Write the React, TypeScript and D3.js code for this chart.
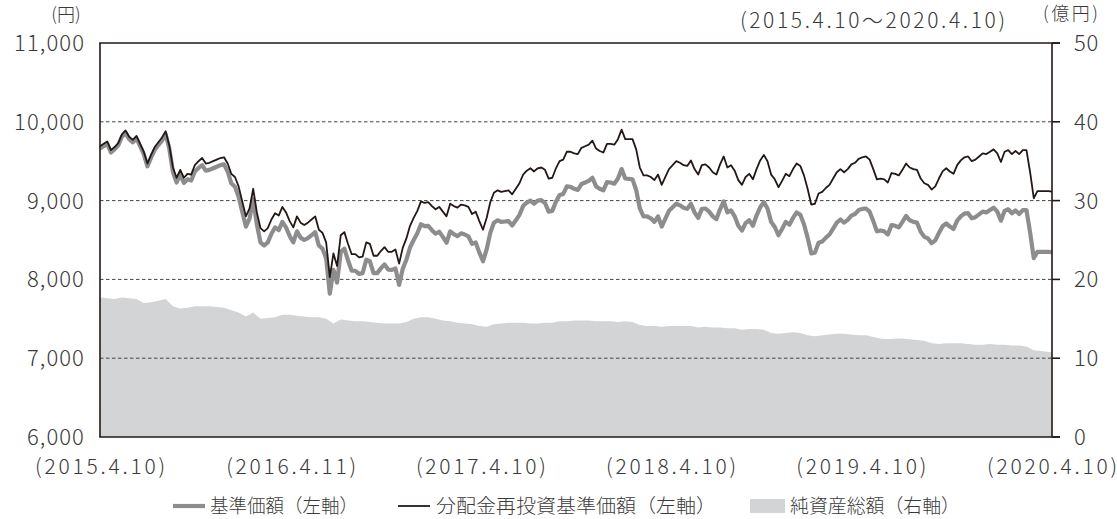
import * as React from 'react'
import * as d3 from 'd3'

// weekly observation dates for the price lines, biweekly for net assets, plus the final date
const startDate = new Date(2015, 3, 10)
const endDate = new Date(2020, 3, 10)
const weeklyDates: Date[] = d3.range(261).map(j => d3.timeDay.offset(startDate, j * 7)).concat([endDate])
const biweeklyDates: Date[] = d3.range(131).map(i => d3.timeDay.offset(startDate, i * 14)).concat([endDate])

// 分配金再投資基準価額 (円), weekly
const navReinvested = [
  9690, 9720, 9750, 9640, 9680, 9730, 9840, 9890, 9810, 9770,
  9820, 9720, 9620, 9470, 9580, 9680, 9740, 9800, 9880, 9700,
  9420, 9290, 9390, 9290, 9340, 9330, 9450, 9500, 9540, 9470,
  9480, 9500, 9520, 9540, 9550, 9470, 9340, 9300, 9180, 8990,
  8800, 8900, 9150, 8850, 8650, 8610, 8650, 8760, 8840, 8810,
  8920, 8850, 8740, 8660, 8800, 8720, 8690, 8720, 8760, 8800,
  8630, 8590, 8470, 8030, 8330, 8170, 8560, 8600, 8450, 8320,
  8320, 8280, 8290, 8470, 8450, 8300, 8300, 8360, 8410, 8350,
  8350, 8380, 8200, 8400, 8520, 8680, 8780, 8870, 8990, 8970,
  8980, 8930, 8890, 8920, 8860, 8800, 8960, 8930, 8910, 8950,
  8940, 8920, 8830, 8860, 8740, 8630, 8780, 8980, 9100, 9130,
  9110, 9120, 9130, 9080, 9150, 9220, 9330, 9380, 9410, 9370,
  9410, 9420, 9390, 9280, 9290, 9410, 9500, 9520, 9620, 9620,
  9600, 9590, 9670, 9690, 9710, 9760, 9660, 9630, 9610, 9720,
  9720, 9710, 9780, 9900, 9780, 9780, 9780, 9650, 9420, 9320,
  9320, 9300, 9260, 9330, 9200, 9300, 9400, 9450, 9500, 9480,
  9450, 9440, 9510, 9400, 9330, 9450, 9460, 9420, 9360, 9330,
  9460, 9560, 9420, 9450, 9380, 9260, 9200, 9300, 9340, 9270,
  9400, 9510, 9580, 9500, 9330, 9270, 9170, 9250, 9340, 9310,
  9400, 9470, 9440, 9320, 9150, 8950, 8960, 9090, 9110, 9160,
  9200, 9280, 9360, 9400, 9360, 9400, 9460, 9480, 9530, 9550,
  9560, 9520, 9400, 9270, 9280, 9270, 9230, 9350, 9340, 9320,
  9390, 9470, 9420, 9400, 9390, 9280, 9220, 9200, 9140, 9180,
  9280, 9370, 9410, 9370, 9340, 9450, 9510, 9550, 9560, 9500,
  9520, 9560, 9600, 9590, 9620, 9650, 9600, 9490, 9620, 9640,
  9590, 9630, 9590, 9640, 9640, 9360, 9030, 9120, 9120, 9120,
  9120, 9115,
]

// 基準価額 (円), weekly
const nav = [
  9660, 9690, 9720, 9610, 9650, 9700, 9810, 9860, 9780, 9740,
  9790, 9690, 9590, 9435, 9545, 9645, 9705, 9760, 9840, 9660,
  9360, 9230, 9330, 9225, 9270, 9255, 9370, 9415, 9450, 9380,
  9390, 9410, 9430, 9450, 9460, 9370, 9220, 9175, 9050, 8860,
  8670, 8770, 9020, 8700, 8470, 8430, 8470, 8580, 8660, 8625,
  8730, 8660, 8550, 8470, 8610, 8530, 8500, 8525, 8560, 8600,
  8430, 8390, 8270, 7820, 8120, 7960, 8350, 8390, 8240, 8110,
  8110, 8070, 8080, 8250, 8230, 8080, 8080, 8140, 8190, 8125,
  8120, 8140, 7930, 8135, 8250, 8405, 8500, 8585, 8700, 8675,
  8680, 8625, 8580, 8605, 8540, 8465, 8610, 8575, 8550, 8585,
  8570, 8545, 8450, 8470, 8340, 8230, 8380, 8590, 8720, 8750,
  8730, 8735, 8740, 8685, 8750, 8820, 8930, 8975, 9000, 8960,
  9000, 9005, 8970, 8860, 8870, 8985, 9070, 9085, 9180, 9175,
  9150, 9135, 9210, 9230, 9250, 9290, 9180, 9150, 9130, 9235,
  9230, 9215, 9280, 9400, 9280, 9275, 9270, 9135, 8900, 8800,
  8800, 8775, 8730, 8800, 8670, 8770, 8870, 8915, 8960, 8940,
  8910, 8895, 8960, 8850, 8780, 8895, 8900, 8860, 8800, 8765,
  8890, 8990, 8850, 8875, 8800, 8680, 8620, 8715, 8750, 8680,
  8810, 8915, 8980, 8900, 8730, 8665, 8560, 8640, 8730, 8695,
  8780, 8850, 8820, 8700, 8530, 8330, 8340, 8465, 8480, 8530,
  8570, 8645, 8720, 8760, 8720, 8755, 8810, 8830, 8880, 8895,
  8900, 8860, 8740, 8610, 8620, 8610, 8570, 8690, 8680, 8660,
  8730, 8805, 8750, 8730, 8720, 8605, 8540, 8520, 8460, 8495,
  8590, 8675, 8710, 8670, 8640, 8745, 8800, 8835, 8840, 8775,
  8790, 8825, 8860, 8850, 8880, 8910, 8860, 8745, 8870, 8890,
  8840, 8875, 8830, 8880, 8880, 8595, 8270, 8350, 8350, 8350,
  8350, 8345,
]

// 純資産総額 (億円), biweekly
const netAssets = [
  17.7, 17.6, 17.5, 17.7, 17.6, 17.5, 17.0, 17.1, 17.3, 17.5,
  16.6, 16.3, 16.4, 16.6, 16.6, 16.6, 16.5, 16.4, 16.1, 15.8,
  15.3, 15.8, 15.0, 15.1, 15.2, 15.5, 15.5, 15.4, 15.3, 15.2,
  15.2, 15.0, 14.4, 14.9, 14.8, 14.7, 14.7, 14.6, 14.5, 14.4,
  14.4, 14.4, 14.6, 15.0, 15.2, 15.2, 15.0, 14.8, 14.7, 14.5,
  14.4, 14.3, 14.1, 14.0, 14.3, 14.4, 14.5, 14.5, 14.5, 14.4,
  14.4, 14.5, 14.5, 14.7, 14.7, 14.8, 14.8, 14.8, 14.7, 14.7,
  14.7, 14.6, 14.7, 14.6, 14.2, 14.1, 14.1, 14.0, 14.1, 14.1,
  14.1, 14.1, 13.9, 14.0, 13.9, 13.9, 13.8, 13.8, 13.6, 13.7,
  13.7, 13.6, 13.2, 13.1, 13.2, 13.3, 13.2, 12.9, 12.8, 12.9,
  13.0, 13.1, 13.1, 13.0, 12.9, 12.9, 12.7, 12.5, 12.4, 12.5,
  12.5, 12.4, 12.3, 12.2, 11.9, 11.8, 11.9, 11.9, 11.9, 11.8,
  11.7, 11.7, 11.8, 11.7, 11.7, 11.6, 11.6, 11.5, 11.0, 10.9,
  10.8, 10.8,
]

const leftTicks = [6000, 7000, 8000, 9000, 10000, 11000]
const rightTicks = [0, 10, 20, 30, 40, 50]
const gridTicks = [7000, 8000, 9000, 10000]
const xTickDates = [
  new Date(2015, 3, 10), new Date(2016, 3, 11), new Date(2017, 3, 10),
  new Date(2018, 3, 10), new Date(2019, 3, 10), new Date(2020, 3, 10),
]
const xTickLabels = ['(2015.4.10)', '(2016.4.11)', '(2017.4.10)', '(2018.4.10)', '(2019.4.10)', '(2020.4.10)']

const W = 1117
const H = 519
const left = 100
const right = 1052
const top = 43
const bottom = 437

const FONT = '"Noto Sans CJK JP", "Noto Sans", sans-serif'
const INK = '#231815'
const TEXT = '#3a3a3a'
const GRAY_LINE = '#8d8d8f'
const AREA = '#d3d4d6'

const App = () => {
  const x = d3.scaleTime().domain([startDate, endDate]).range([left, right])
  const yL = d3.scaleLinear().domain([6000, 11000]).range([bottom, top])
  const yR = d3.scaleLinear().domain([0, 50]).range([bottom, top])

  const line = (vals: number[]) =>
    d3.line<number>().x((_, i) => x(weeklyDates[i])).y(d => yL(d))(vals) || ''
  const area = d3.area<number>()
    .x((_, i) => x(biweeklyDates[i]))
    .y0(yR(0))
    .y1(d => yR(d))(netAssets) || ''

  const fmt = d3.format(',')

  return (
    <svg width={W} height={H} style={{ position: 'absolute', left: 0, top: 0, background: '#fff' }}
      fontFamily={FONT}>
      <path d={area} fill={AREA} />
      {gridTicks.map(t => (
        <line key={t} x1={left} x2={right} y1={yL(t)} y2={yL(t)}
          stroke="#444" strokeWidth={1} strokeDasharray="3.5,2.5" />
      ))}
      <path d={line(nav)} fill="none" stroke={GRAY_LINE} strokeWidth={4.2} strokeLinejoin="round" />
      <path d={line(navReinvested)} fill="none" stroke={INK} strokeWidth={1.8} strokeLinejoin="round" />

      {/* frame */}
      <line x1={left} x2={left} y1={top} y2={bottom} stroke={INK} strokeWidth={1.6} />
      <line x1={right} x2={right} y1={top} y2={bottom} stroke={INK} strokeWidth={1.6} />
      <line x1={left - 0.8} x2={right + 8} y1={top} y2={top} stroke={INK} strokeWidth={1.6} />
      <line x1={left - 0.8} x2={right + 8} y1={bottom} y2={bottom} stroke={INK} strokeWidth={1.6} />
      {rightTicks.map(t => (
        <line key={t} x1={right} x2={right + 8} y1={yR(t)} y2={yR(t)} stroke={INK} strokeWidth={1.6} />
      ))}

      {/* axis labels */}
      {leftTicks.map(t => (
        <text key={t} x={85} y={yL(t)} dy="0.36em" textAnchor="end" fontSize={22}
          fontWeight={300} fill={TEXT} letterSpacing={1.1}>{fmt(t)}</text>
      ))}
      {rightTicks.map(t => (
        <text key={t} x={1074} y={yR(t)} dy="0.36em" textAnchor="start" fontSize={22}
          fontWeight={300} fill={TEXT} letterSpacing={0.8}>{t}</text>
      ))}
      {xTickDates.map((d, i) => (
        <text key={i} x={x(d)} y={466} dy="0.36em" textAnchor="middle" fontSize={21}
          fontWeight={300} fill={TEXT} textLength={130} lengthAdjust="spacing">{xTickLabels[i]}</text>
      ))}

      <text x={66} y={15} dy="0.36em" textAnchor="middle" fontSize={18} fontWeight={300} fill={TEXT}>(円)</text>
      <text x={740} y={20} dy="0.36em" fontSize={21} fontWeight={300} fill={TEXT}
        textLength={265} lengthAdjust="spacing">(2015.4.10～2020.4.10)</text>
      <text x={1043} y={14} dy="0.36em" fontSize={18} fontWeight={300} fill={TEXT}
        textLength={55} lengthAdjust="spacing">(億円)</text>

      {/* legend */}
      <line x1={173} x2={205} y1={506} y2={506} stroke={GRAY_LINE} strokeWidth={4.2} />
      <text x={210} y={506} dy="0.36em" fontSize={19} fontWeight={300} fill={TEXT}
        textLength={148} lengthAdjust="spacingAndGlyphs">基準価額（左軸）</text>
      <line x1={398} x2={430} y1={506} y2={506} stroke={INK} strokeWidth={1.8} />
      <text x={436} y={506} dy="0.36em" fontSize={19} fontWeight={300} fill={TEXT}
        textLength={280} lengthAdjust="spacingAndGlyphs">分配金再投資基準価額（左軸）</text>
      <rect x={750} y={499} width={35} height={14} fill={AREA} />
      <text x={790} y={506} dy="0.36em" fontSize={19} fontWeight={300} fill={TEXT}
        textLength={170} lengthAdjust="spacingAndGlyphs">純資産総額（右軸）</text>
    </svg>
  )
}

export default App
